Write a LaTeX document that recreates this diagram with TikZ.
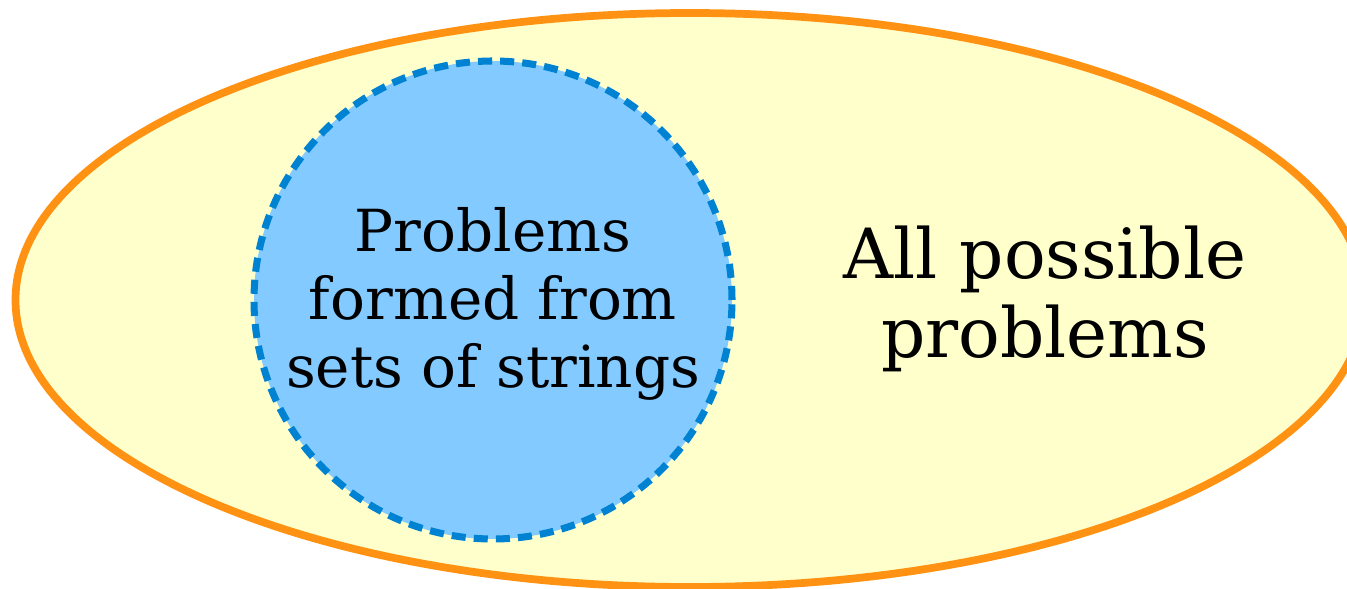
\documentclass[tikz,border=0pt]{standalone}
\usepackage{fontspec}
\setmainfont{DejaVu Serif}
\usetikzlibrary{positioning}
\definecolor{outerfill}{RGB}{255,255,204}
\definecolor{outerline}{RGB}{255,146,18}
\definecolor{innerfill}{RGB}{130,202,255}
\definecolor{innerline}{RGB}{0,130,210}
\tikzset{
  outer/.style={fill=outerfill, draw=outerline, line width=2.2pt},
  inner/.style={circle, fill=innerfill, draw=innerline, line width=2pt,
    dash pattern=on 4pt off 2.3pt, minimum size=4.78cm, inner sep=0pt},
  smalltxt/.style={align=center, font=\fontsize{16.5}{19.3}\selectfont},
  bigtxt/.style={align=center, font=\fontsize{19.7}{22.6}\selectfont},
}

\begin{document}
\begin{tikzpicture}
  \useasboundingbox (0,0) rectangle (13.47,-5.89);
  \clip (0,0) rectangle (13.47,-5.89);
  % all problems
  \draw[outer] (6.90,-3.00) ellipse [x radius=6.745, y radius=2.87];
  % problems from strings
  \node[inner] (strings) at (4.93,-3.00) {};
  \node[smalltxt] (stringstxt) at (4.93,-3.04) {Problems\\formed from\\sets of strings};
  \node[bigtxt] (alltxt) at (10.45,-2.99) {All possible\\problems};
\end{tikzpicture}
\end{document}
